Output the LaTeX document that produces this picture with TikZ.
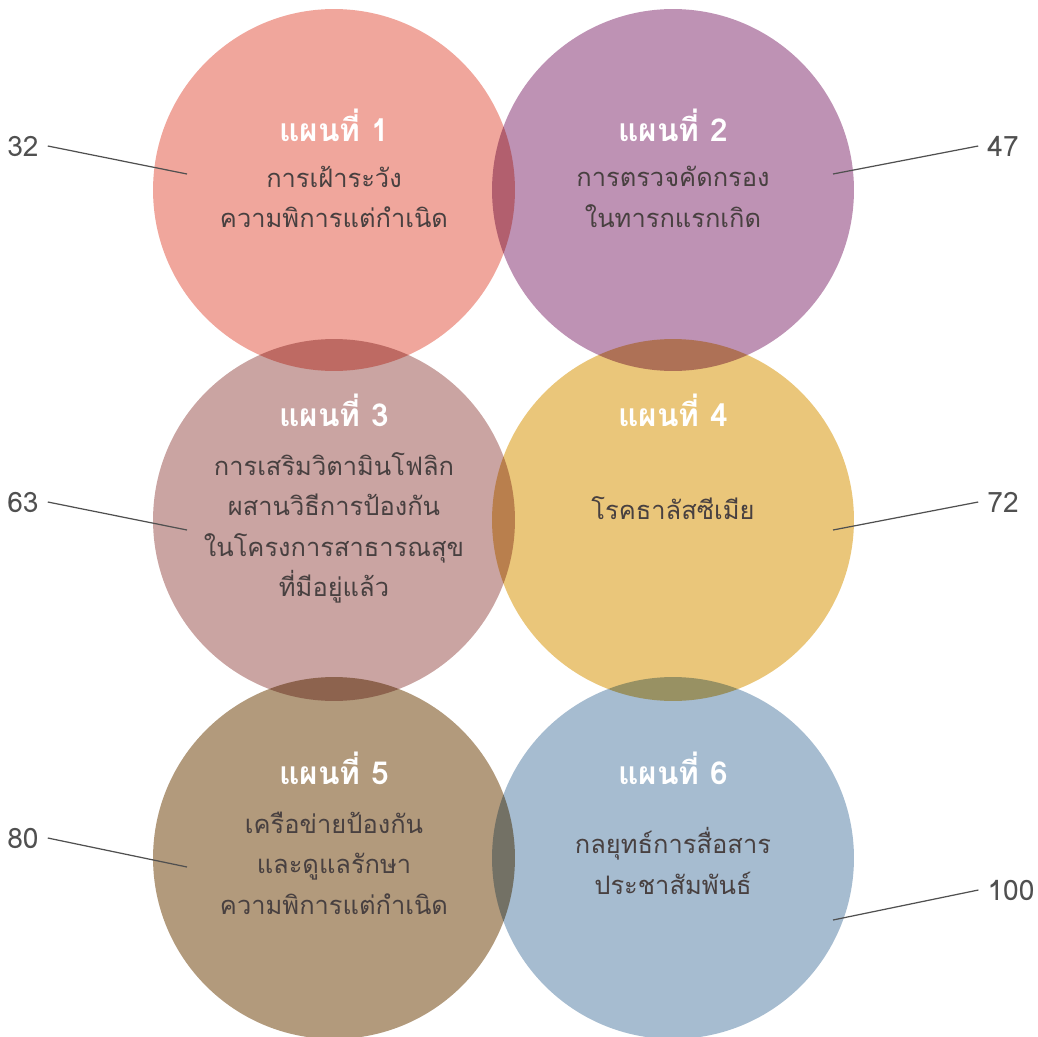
\documentclass[tikz,border=0pt]{standalone}
\usepackage{fontspec}
\newfontfamily\thaifont[Script=Thai]{Loma}
\definecolor{planA}{RGB}{240,166,156}
\definecolor{planB}{RGB}{190,146,180}
\definecolor{planC}{RGB}{202,164,162}
\definecolor{planD}{RGB}{234,198,122}
\definecolor{planE}{RGB}{178,154,124}
\definecolor{planF}{RGB}{166,188,208}
\definecolor{bodytext}{RGB}{72,64,64}
\definecolor{numtext}{RGB}{80,80,80}
\tikzset{
	plan/.style={circle, minimum size=7.24cm, inner sep=0pt},
	title/.style={font=\thaifont\bfseries\fontsize{18}{20}\selectfont, text=white},
	body/.style={font=\thaifont\fontsize{14.5}{23}\selectfont, text=bodytext, align=center},
	num/.style={font=\thaifont\fontsize{16}{18}\selectfont, text=numtext, inner sep=5pt},
	pointer/.style={draw=numtext, line width=0.7pt}
}
\begin{document}
\begin{tikzpicture}[x=0.02cm, y=-0.02cm]
	\useasboundingbox (0,0) rectangle (1038,1037);
	% circles
	\begin{scope}[blend mode=multiply]
		\node [plan, fill=planA] (c1) at (334,190) {};
		\node [plan, fill=planB] (c2) at (673,190) {};
		\node [plan, fill=planC] (c3) at (334,520) {};
		\node [plan, fill=planD] (c4) at (673,520) {};
		\node [plan, fill=planE] (c5) at (334,858) {};
		\node [plan, fill=planF] (c6) at (673,858) {};
	\end{scope}
	% titles
	\node [title] (t1) at (334,125) {แผนที่ 1};
	\node [title] (t2) at (673,125) {แผนที่ 2};
	\node [title] (t3) at (334,410) {แผนที่ 3};
	\node [title] (t4) at (673,410) {แผนที่ 4};
	\node [title] (t5) at (334,768) {แผนที่ 5};
	\node [title] (t6) at (673,768) {แผนที่ 6};
	% texts
	\node [body] (b1) at (334,197) {การเฝ้าระวัง\\ความพิการแต่กำเนิด};
	\node [body] (b2) at (673,197) {การตรวจคัดกรอง\\ในทารกแรกเกิด};
	\node [body] (b3) at (334,528) {การเสริมวิตามินโฟลิก\\ผสานวิธีการป้องกัน\\ในโครงการสาธารณสุข\\ที่มีอยู่แล้ว};
	\node [body] (b4) at (673,508) {โรคธาลัสซีเมีย};
	\node [body] (b5) at (334,863) {เครือข่ายป้องกัน\\และดูแลรักษา\\ความพิการแต่กำเนิด};
	\node [body] (b6) at (673,861) {กลยุทธ์การสื่อสาร\\ประชาสัมพันธ์};
	% page numbers
	\node [num] (n32) at (23,146) {32};
	\node [num] (n47) at (1003,146) {47};
	\node [num] (n63) at (23,502) {63};
	\node [num] (n72) at (1003,502) {72};
	\node [num] (n80) at (23,838) {80};
	\node [num] (n100) at (1011,890) {100};
	\coordinate (e32) at (187,174);
	\coordinate (e47) at (833,174);
	\coordinate (e63) at (187,530);
	\coordinate (e72) at (833,530);
	\coordinate (e80) at (187,867);
	\coordinate (e100) at (833,920);
	\draw [pointer] (n32.east) -- (e32);
	\draw [pointer] (n47.west) -- (e47);
	\draw [pointer] (n63.east) -- (e63);
	\draw [pointer] (n72.west) -- (e72);
	\draw [pointer] (n80.east) -- (e80);
	\draw [pointer] (n100.west) -- (e100);
\end{tikzpicture}
\end{document}
